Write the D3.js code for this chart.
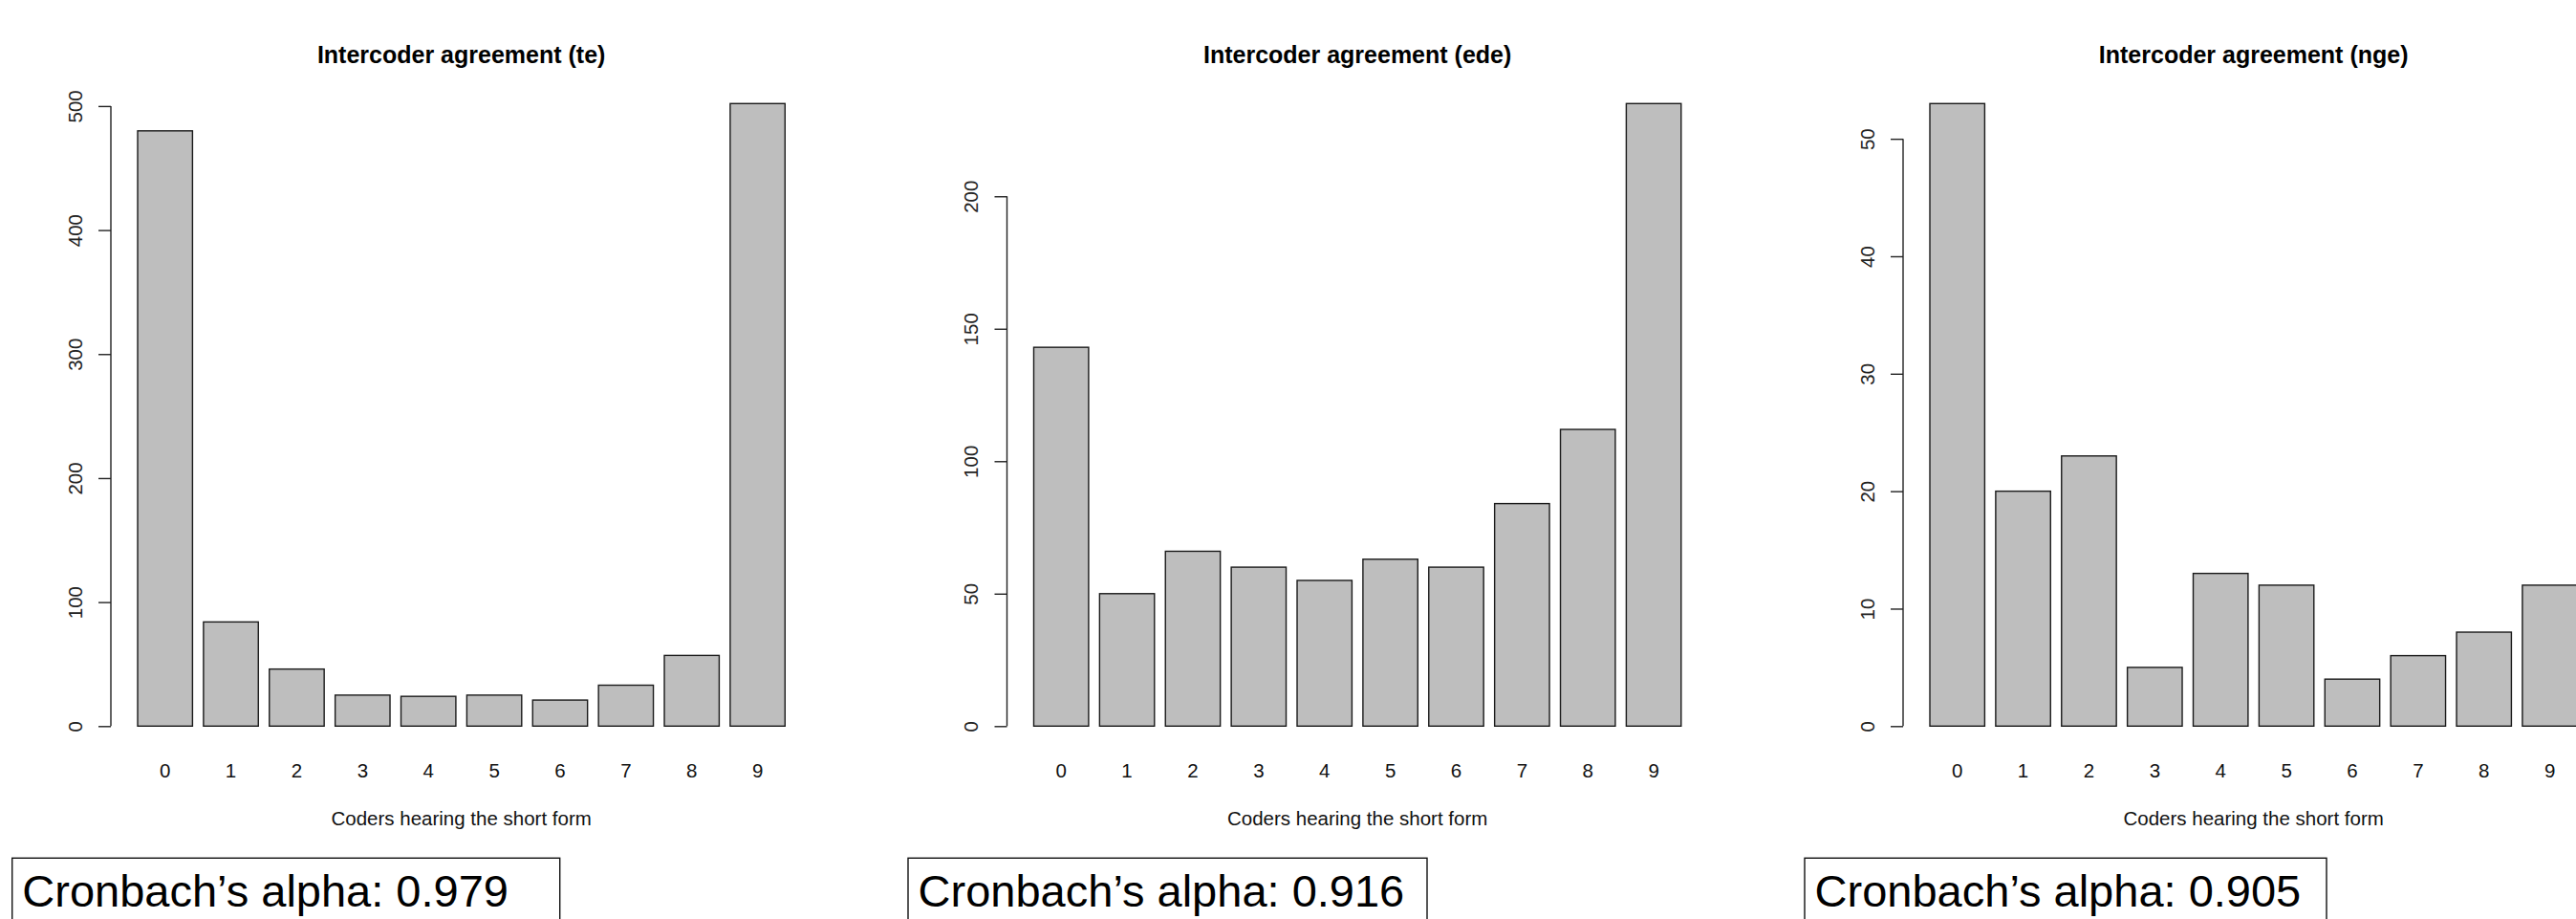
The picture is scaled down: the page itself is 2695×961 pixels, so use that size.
<!DOCTYPE html>
<html>
<head>
<meta charset="utf-8">
<script src="https://cdn.jsdelivr.net/npm/d3@7"></script>
<style>
  html, body { margin: 0; padding: 0; background: #fff; overflow: hidden; }
  svg { display: block; }
  text { font-family: "Liberation Sans", Arial, Helvetica, sans-serif; }
</style>
</head>
<body>
<svg id="chart" width="2695" height="961"></svg>
<script>
// ---------------- data ----------------
const categories = ["0", "1", "2", "3", "4", "5", "6", "7", "8", "9"];
const teValues  = [480, 84, 46, 25, 24, 25, 21, 33, 57, 502];
const edeValues = [143, 50, 66, 60, 55, 63, 60, 84, 112, 235];
const ngeValues = [53, 20, 23, 5, 13, 12, 4, 6, 8, 12];
const teTicks  = [0, 100, 200, 300, 400, 500];
const edeTicks = [0, 50, 100, 150, 200];
const ngeTicks = [0, 10, 20, 30, 40, 50];
const panelTitles = ["Intercoder agreement (te)", "Intercoder agreement (ede)", "Intercoder agreement (nge)"];
const xAxisTitle = "Coders hearing the short form";
const alphaLabel = "Cronbach\u2019s alpha: ";
const alphaValues = ["0.979", "0.916", "0.905"];

// ---------------- layout ----------------
const panelStep = 937.5;
const axisX = 116;
const bandLeft = 144, bandRight = 821.3;
const yZero = 759.3, yMaxPix = 108.3;
const tickLen = 13;
const boxWidths = [573, 543, 546];
const boxLefts = [12.7, 950, 1888];

const svg = d3.select("#chart");
const panels = [
  { values: teValues, ticks: teTicks },
  { values: edeValues, ticks: edeTicks },
  { values: ngeValues, ticks: ngeTicks }
];

panels.forEach((p, i) => {
  const off = i * panelStep;
  const g = svg.append("g").attr("transform", `translate(${off},0)`);

  const x = d3.scaleBand()
    .domain(categories)
    .range([bandLeft, bandRight])
    .paddingInner(0.2 / 1.2)
    .paddingOuter(0);
  const y = d3.scaleLinear()
    .domain([0, d3.max(p.values)])
    .range([yZero, yMaxPix]);

  const plotCenter = (axisX + (bandRight + (bandLeft - axisX))) / 2;

  // bars
  g.selectAll("rect.bar")
    .data(p.values)
    .join("rect")
    .attr("class", "bar")
    .attr("x", (d, j) => x(categories[j]))
    .attr("width", x.bandwidth())
    .attr("y", d => y(d))
    .attr("height", d => y(0) - y(d))
    .attr("fill", "#bebebe")
    .attr("stroke", "#1a1a1a")
    .attr("stroke-width", 1.4);

  // y axis
  const yAxis = d3.axisLeft(y)
    .tickValues(p.ticks)
    .tickSize(tickLen)
    .tickSizeOuter(0)
    .tickFormat(d3.format("d"));
  const ag = g.append("g")
    .attr("transform", `translate(${axisX},0)`)
    .call(yAxis);
  ag.select(".domain").remove();
  ag.append("line")
    .attr("x1", 0).attr("x2", 0)
    .attr("y1", y(p.ticks[0]))
    .attr("y2", y(p.ticks[p.ticks.length - 1]))
    .attr("stroke", "#222")
    .attr("stroke-width", 1.4);
  ag.selectAll(".tick line").attr("stroke", "#222").attr("stroke-width", 1.4);
  ag.selectAll(".tick text")
    .attr("x", null)
    .attr("dy", null)
    .attr("text-anchor", "middle")
    .attr("transform", "translate(-30.5,0) rotate(-90)")
    .attr("font-size", 20.5)
    .attr("font-family", "Liberation Sans, Arial, sans-serif")
    .attr("fill", "#222");

  // x category labels (no axis line, as in R barplot)
  const xAxis = d3.axisBottom(x).tickSize(0).tickPadding(0);
  const xg = g.append("g")
    .attr("transform", `translate(0,${812.5})`)
    .call(xAxis);
  xg.select(".domain").remove();
  xg.selectAll(".tick text")
    .attr("y", 0)
    .attr("dy", null)
    .attr("font-size", 20.5)
    .attr("font-family", "Liberation Sans, Arial, sans-serif")
    .attr("fill", "#111");

  // title
  g.append("text")
    .attr("x", plotCenter)
    .attr("y", 66)
    .attr("text-anchor", "middle")
    .attr("font-size", 25)
    .attr("font-weight", "bold")
    .attr("fill", "#000")
    .text(panelTitles[i]);

  // x axis title
  g.append("text")
    .attr("x", plotCenter)
    .attr("y", 863.3)
    .attr("text-anchor", "middle")
    .attr("font-size", 20.5)
    .attr("fill", "#111")
    .text(xAxisTitle);
});

// Cronbach's alpha boxes
alphaValues.forEach((a, i) => {
  const bx = boxLefts[i];
  svg.append("rect")
    .attr("x", bx)
    .attr("y", 897.3)
    .attr("width", boxWidths[i])
    .attr("height", 120)
    .attr("fill", "#fff")
    .attr("stroke", "#111")
    .attr("stroke-width", 1.4);
  svg.append("text")
    .attr("x", bx + 10.6)
    .attr("y", 948.3)
    .attr("font-size", 47)
    .attr("fill", "#000")
    .text(alphaLabel + a);
});
</script>
</body>
</html>
